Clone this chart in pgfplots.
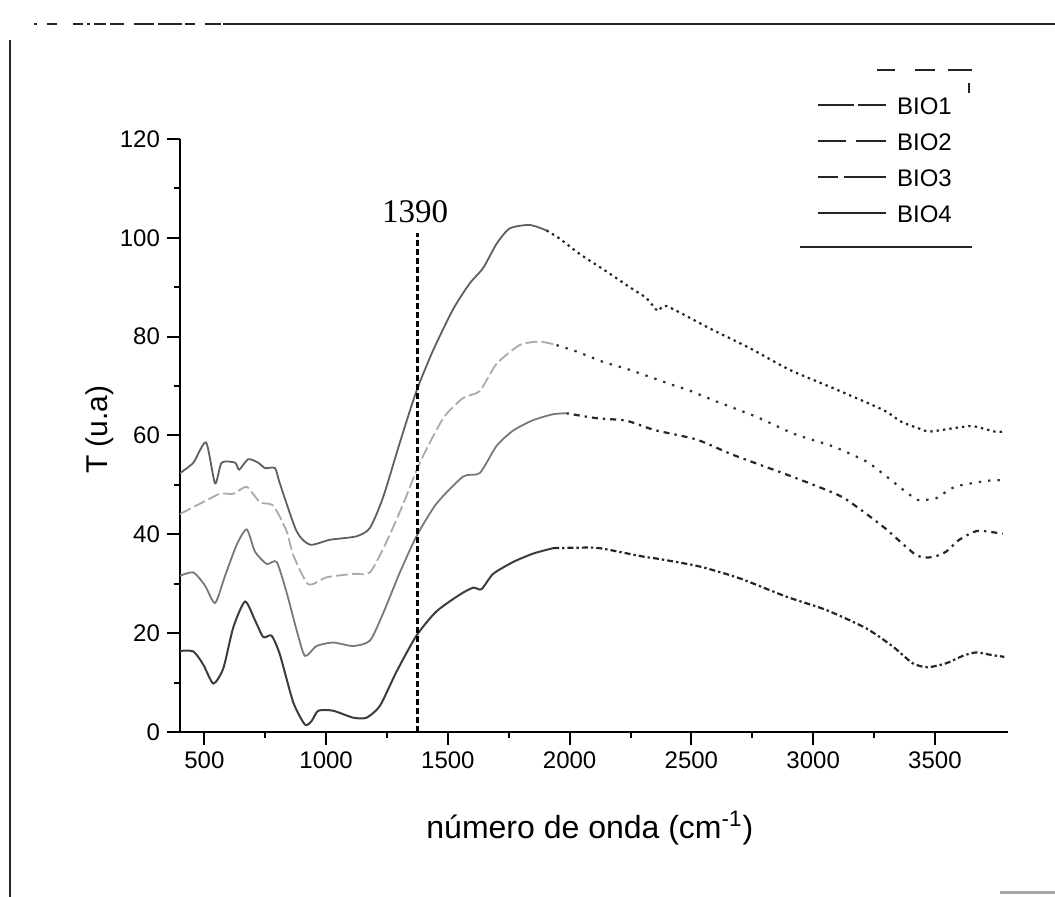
\documentclass[border=0pt]{standalone}
\usepackage{pgfplots}
\pgfplotsset{compat=1.18}
\usepackage{pgfplotstable}
\usepackage{fontspec}
\setmainfont{Liberation Sans}
\newfontfamily\timesfont{Liberation Serif}

\definecolor{cA}{RGB}{95,95,95}
\definecolor{cB}{RGB}{170,170,170}
\definecolor{cC}{RGB}{120,120,120}
\definecolor{cD}{RGB}{60,60,60}

\pgfplotstableread{
x y
400 52.4
455 54.5
507 58.6
544 50.3
571 54.5
626 54.5
643 53.1
680 55.2
721 54.5
749 53.4
790 53.4
810 50.3
879 40.6
934 37.9
1016 38.9
1125 39.6
1180 41.3
1234 47.5
1303 58.6
1371 69.0
1440 77.3
1522 85.6
1590 90.8
1645 93.9
1700 98.8
1754 101.9
1836 102.6
1905 101.5
1960 99.8
2042 96.7
2151 93.2
2247 90.0
2315 87.8
2362 85.2
2397 86.2
2574 81.7
2739 77.7
2903 73.3
3081 69.6
3286 65.2
3361 62.8
3430 61.5
3477 60.8
3580 61.5
3655 61.9
3744 60.8
3785 60.8
}\bioone

\pgfplotstableread{
x y
400 44.1
482 46.2
564 48.2
619 48.2
674 49.6
728 46.5
783 45.8
838 40.6
865 35.8
927 29.9
1002 31.3
1111 32.0
1180 32.3
1248 38.5
1317 46.2
1385 54.5
1481 63.5
1563 67.6
1631 69.0
1700 74.5
1795 78.3
1877 79.0
1946 78.3
2028 77.0
2137 74.9
2246 73.3
2424 70.2
2492 69.1
2602 66.9
2766 63.8
2923 60.3
3081 57.8
3204 55.1
3252 53.6
3416 47.3
3457 47.0
3505 47.3
3587 49.7
3744 51.0
3785 50.6
}\biotwo

\pgfplotstableread{
x y
400 31.6
455 32.3
503 29.6
544 26.1
585 31.6
633 37.9
674 41.0
708 36.5
756 34.0
797 34.4
838 28.2
879 20.6
913 15.4
961 17.4
1029 18.1
1111 17.4
1180 18.5
1234 24.0
1303 32.3
1371 39.6
1453 46.2
1563 51.7
1631 52.4
1700 57.9
1768 61.0
1850 63.1
1932 64.3
1987 64.5
2110 63.5
2232 63.0
2349 61.1
2520 59.2
2670 56.1
2869 52.5
3012 49.8
3128 47.3
3286 41.6
3423 35.8
3491 35.4
3546 36.5
3600 38.9
3676 40.7
3778 40.1
}\biothree

\pgfplotstableread{
x y
400 16.4
455 16.3
496 13.6
537 9.8
578 12.9
619 21.2
667 26.4
708 22.6
742 19.2
776 19.5
810 15.7
865 6.0
913 1.5
940 2.2
968 4.3
1029 4.3
1111 2.9
1166 2.9
1221 5.3
1289 12.2
1371 19.5
1453 24.4
1549 27.8
1604 29.2
1638 28.9
1686 32.0
1768 34.4
1850 36.1
1932 37.2
2042 37.3
2123 37.2
2301 35.5
2369 35.0
2533 33.5
2698 31.1
2889 27.4
3053 24.7
3217 21.0
3327 17.3
3409 13.9
3470 13.1
3546 13.9
3614 15.4
3669 16.1
3730 15.6
3785 15.2
}\biofour

\begin{document}
\begin{tikzpicture}
\path[use as bounding box] (-90pt,-82.5pt) rectangle (437.5pt,366pt);
\begin{axis}[
  at={(0pt,0pt)}, anchor=south west,
  scale only axis, width=414pt, height=296.5pt,
  xmin=400, xmax=3800, ymin=0, ymax=120,
  axis x line=bottom, axis y line=left,
  axis line style={-},
  x axis line style={line width=1.4pt},
  y axis line style={line width=1.1pt},
  xtick={500,1000,...,3500}, minor x tick num=1,
  ytick={0,20,...,120}, minor y tick num=1,
  tick align=outside, major tick length=6.5pt, minor tick length=3pt,
  every tick/.style={black, line width=1pt},
  tick label style={font=\fontsize{12}{14}\selectfont},
  /pgf/number format/assume math mode=true,
  /pgf/number format/1000 sep={},
  xlabel={número de onda (cm\textsuperscript{-1})},
  xlabel style={font=\fontsize{16}{19}\selectfont, at={(axis description cs:0.495,-0.162)}, anchor=center},
  ylabel={T (u.a)},
  ylabel style={font=\fontsize{15}{18}\selectfont, at={(axis description cs:-0.097,0.51)}, anchor=center},
  legend style={at={(0.769,1.0725)}, anchor=north west, draw=none, fill=none,
    font=\fontsize{12}{14}\selectfont, inner sep=0pt, row sep=9pt,
    nodes={inner sep=0pt, text height=9pt, text depth=0pt},
    /tikz/every odd column/.append style={column sep=5pt}},
  legend cell align=left,
  legend image code/.code={\draw[#1] (0pt,0pt) -- (34pt,0pt);},
]
\addlegendimage{black!85, line width=1pt, dash pattern=on 18pt off 2pt on 14pt}
\addlegendentry{BIO1}
\addlegendimage{black!85, line width=1pt, dash pattern=on 14pt off 5pt on 15pt}
\addlegendentry{BIO2}
\addlegendimage{black!85, line width=1pt, dash pattern=on 10pt off 3pt on 21pt}
\addlegendentry{BIO3}
\addlegendimage{black!85, line width=1pt}
\addlegendentry{BIO4}

% BIO1
\addplot[cA, line width=0.9pt, smooth, tension=0.4, restrict x to domain=400:1905, forget plot] table {\bioone};
\addplot[black!85, line width=1.1pt, smooth, tension=0.4, dash pattern=on 1.2pt off 2pt, restrict x to domain=1905:3800, forget plot] table {\bioone};
% BIO2
\addplot[cB, line width=0.9pt, smooth, tension=0.4, dash pattern=on 6pt off 2pt, restrict x to domain=400:1946, forget plot] table {\biotwo};
\addplot[black!80, line width=1.1pt, smooth, tension=0.4, dash pattern=on 1.2pt off 3.5pt, restrict x to domain=1946:3800, forget plot] table {\biotwo};
% BIO3
\addplot[cC, line width=0.9pt, smooth, tension=0.4, restrict x to domain=400:1987, forget plot] table {\biothree};
\addplot[black!85, line width=1.1pt, smooth, tension=0.4, dash pattern=on 1.2pt off 2.5pt on 3pt off 2.5pt, restrict x to domain=1987:3800, forget plot] table {\biothree};
% BIO4
\addplot[cD, line width=1pt, smooth, tension=0.4, restrict x to domain=400:1932, forget plot] table {\biofour};
\addplot[black!85, line width=1.1pt, smooth, tension=0.4, dash pattern=on 3pt off 1.5pt on 1.2pt off 1.5pt, restrict x to domain=1932:3800, forget plot] table {\biofour};

% marker line at 1390
\addplot[black, line width=1.3pt, dash pattern=on 3pt off 1.5pt, forget plot] coordinates {(1375,0) (1375,101)};
\node[font=\timesfont\fontsize{16.5}{18}\selectfont] at (axis cs:1365,105.3) {1390};
\end{axis}

% scan frame remnants
\draw[black!85, line width=1pt] (21.5pt,354pt) -- (437.5pt,354pt);
\draw[black!85, line width=1pt, dash pattern=on 1.5pt off 5pt on 5pt off 8pt on 5pt off 2pt on 1.5pt off 2pt on 6pt off 2pt on 7pt off 5pt on 10pt off 2pt on 12pt] (-73pt,354pt) -- (21.5pt,354pt);
\draw[black!85, line width=0.9pt] (-85pt,346pt) -- (-85pt,-82.5pt);
\draw[black!35, line width=1.5pt] (410pt,-80.5pt) -- (437.5pt,-80.5pt);
% legend frame remnants
\draw[black!85, line width=1pt] (348.5pt,331pt) -- (357.5pt,331pt);
\draw[black!85, line width=1pt] (367.5pt,331pt) -- (377.5pt,331pt);
\draw[black!85, line width=1pt] (384pt,331pt) -- (396pt,331pt);
\draw[black!85, line width=0.8pt] (394.5pt,324.5pt) -- (394.5pt,319.5pt);
\draw[black!85, line width=1.1pt] (310pt,242.5pt) -- (396pt,242.5pt);
\end{tikzpicture}
\end{document}
